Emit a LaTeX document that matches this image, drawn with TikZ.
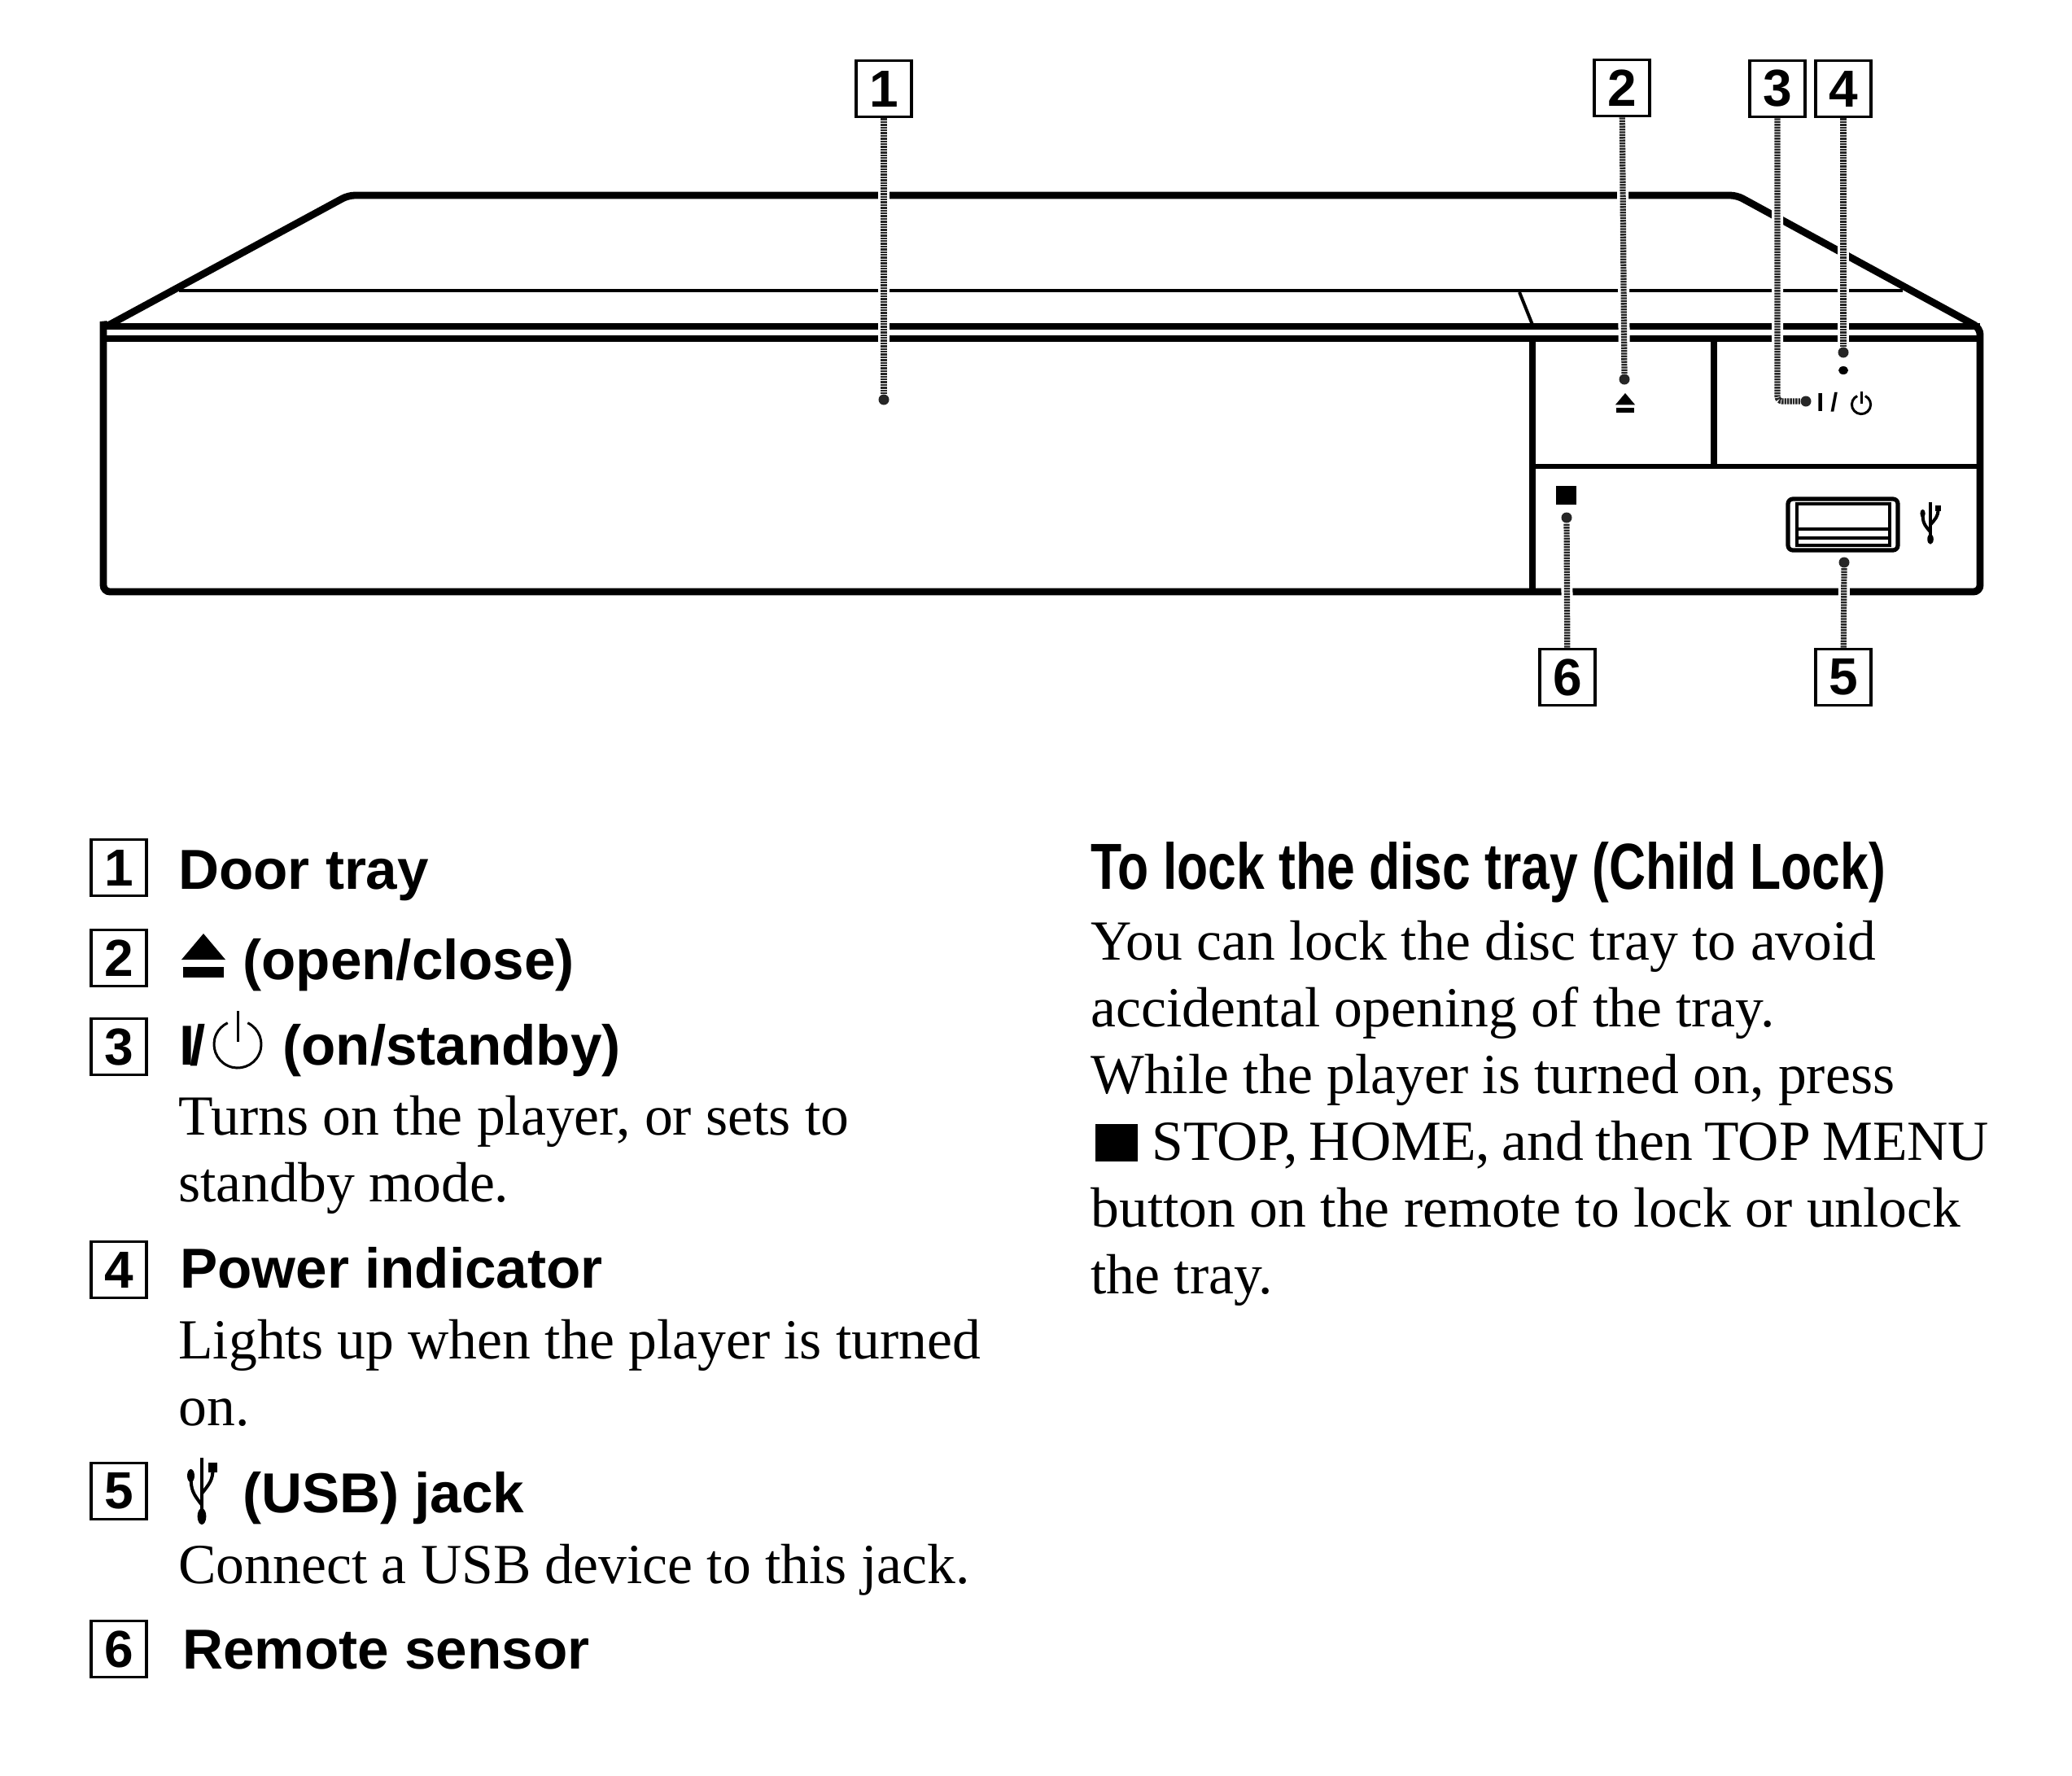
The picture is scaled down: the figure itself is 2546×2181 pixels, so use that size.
\documentclass[tikz,border=0pt]{standalone}
\usepackage{fontspec}
\setmainfont{Liberation Serif}
\setsansfont{Liberation Sans}
\newfontfamily\narrowhead[FakeStretch=0.78]{Liberation Sans}
\newcommand{\bodysize}{\fontsize{34.8}{41}\selectfont}
\newcommand{\headsize}{\fontsize{34.6}{41}\sffamily\bfseries\selectfont}

\begin{document}
\begin{tikzpicture} [
    x=0.5pt, y=-0.5pt,
    numbox/.style   = { rectangle, draw, line width=1.8pt, minimum width=34pt,
                        minimum height=34.5pt, inner sep=0pt,
                        font=\fontsize{32}{32}\sffamily\bfseries\selectfont },
    head/.style     = { anchor=base west, inner sep=0pt, font=\headsize },
    desc/.style     = { anchor=base west, inner sep=0pt, align=left, font=\bodysize },
    thickline/.style = { draw, line width=4.4pt },
    thinline/.style = { draw, line width=2pt },
    lead/.style     = { draw=black!85, line width=3.6pt, dash pattern=on 1.2pt off 0.5pt,
                        preaction={draw=white, solid, line width=7pt} },
    leaddot/.style  = { circle, fill=black!85, minimum size=6.5pt, inner sep=0pt },
    pics/power/.style = { code={
        \draw[line width=1.5pt] (-65:29) arc (-65:245:29);
        \draw[line width=1.5pt] (0,-41) -- (0,-3);
      } },
    pics/eject/.style = { code={
        \fill (0,0) -- (27,32) -- (-27,32) -- cycle;
        \fill (-25,41) rectangle (25,54);
      } },
    pics/usb/.style = { code={
        \draw[line width=2pt] (0,0) -- (0,72);
        \fill (0,72) ellipse (6 and 10);
        \draw[line width=2pt] (0,58) .. controls (-12,44) and (-15,40) .. (-15,22);
        \fill (-15,22) ellipse (5 and 8);
        \draw[line width=2pt] (0,44) .. controls (10,32) and (15,28) .. (15,14);
        \fill (9,6) rectangle (21,18);
      } },
  ]
  \useasboundingbox (0,0) rectangle (2546,2181);

  % player body
  \draw[thickline, rounded corners=4pt] (127,403) -- (127,727) -- (2433,727)
       -- (2433,403) -- (2134,240) -- (428,240) -- (127,403) -- cycle;
  \draw[thickline] (127,401) -- (2433,401);
  \draw[thickline] (127,416) -- (2433,416);
  \draw[thinline] (220,357) -- (2338,357);
  \draw[thinline] (1867,359) -- (1883,399);
  \draw[thickline] (1883,416) -- (1883,727);
  \draw[thickline] (2106,416) -- (2106,573);
  \draw[line width=2.8pt] (1883,573) -- (2433,573);
  \fill (1912,597) rectangle (1937,620);
  \fill (2265,455) ellipse (6 and 5);
  \draw[line width=2.6pt, rounded corners=3pt] (2197,613) rectangle (2332,676);
  \draw[line width=1.6pt] (2208,619) rectangle (2322,670);
  \draw[line width=1.6pt] (2208,650) -- (2322,650) (2208,661) -- (2322,661);
  \pic at (1997,483) [scale=0.45] {eject};
  \pic at (2287,497) [scale=0.4] {power};
  \pic at (2372,617) [scale=0.63] {usb};
  \node[anchor=base west, inner sep=0pt, font=\fontsize{16}{16}\sffamily\bfseries\selectfont]
       (onoff) at (2232,505) {I\hspace{4pt}/};

  % numbers and dots
  \node[numbox](num1) at (1086,109) {1};
  \node[numbox](num2) at (1993,108) {2};
  \node[numbox](num3) at (2184,109) {3};
  \node[numbox](num4) at (2265,109) {4};
  \node[numbox](num5) at (2265,832) {5};
  \node[numbox](num6) at (1926,832) {6};
  \node[leaddot](dot1) at (1086,491) {};
  \node[leaddot](dot2) at (1996,466) {};
  \node[leaddot](dot3) at (2219,493) {};
  \node[leaddot](dot4) at (2265,433) {};
  \node[leaddot](dot5) at (2266,691) {};
  \node[leaddot](dot6) at (1925,636) {};

  % connect the nodes
  \path [lead] (num1) -- (dot1);
  \path [lead] (num2) -- (dot2);
  \path [lead, rounded corners=3pt] (num3) |- (dot3);
  \path [lead] (num4) -- (dot4);
  \path [lead] (num5) -- (dot5);
  \path [lead] (num6) -- (dot6);

  % left column
  \node[numbox](item1) at (146,1066) {1};
  \node[numbox](item2) at (146,1177) {2};
  \node[numbox](item3) at (146,1286) {3};
  \node[numbox](item4) at (146,1560) {4};
  \node[numbox](item5) at (146,1832) {5};
  \node[numbox](item6) at (146,2026) {6};
  \node[head](door) at (219,1092) {Door tray};
  \pic at (250,1147) {eject};
  \node[head](open) at (298,1203) {(open/close)};
  \node[head](slash) at (220,1308) {I\kern-3pt/};
  \pic at (292,1283) {power};
  \node[head](on) at (347,1308) {(on/standby)};
  \node[desc](ondesc) at (219,1476) {Turns on the player, or sets to\\standby mode.};
  \node[head](power) at (221,1582) {Power indicator};
  \node[desc](powerdesc) at (219,1751) {Lights up when the player is turned\\on.};
  \pic at (248,1791) [xscale=0.9] {usb};
  \node[head](usb) at (298,1858) {(USB) jack};
  \node[desc](usbdesc) at (219,1945) {Connect a USB device to this jack.};
  \node[head](remote) at (224,2050) {Remote sensor};

  % right column
  \node[head, font=\fontsize{40}{41}\narrowhead\bfseries\selectfont](lock) at (1340,1092) {To lock the disc tray (Child Lock)};
  \node[desc](lockdesc) at (1340,1589) {You can lock the disc tray to avoid\\accidental opening of the tray.\\While the player is turned on, press\\\hspace*{3pt}\rule[-1pt]{26pt}{23pt} {\spaceskip=7.2pt STOP, HOME, and then TOP MENU}\\button on the remote to lock or unlock\\the tray.};
\end{tikzpicture}
\end{document}
